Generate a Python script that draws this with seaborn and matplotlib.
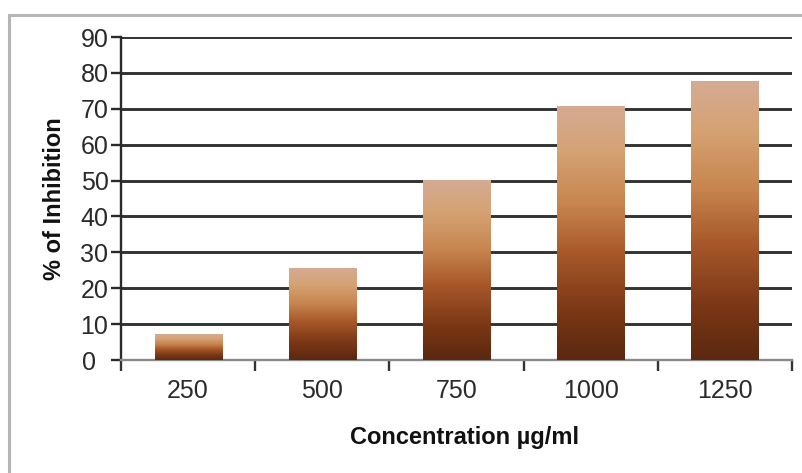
import numpy as np
import pandas as pd
import matplotlib
matplotlib.use("Agg")
import matplotlib.pyplot as plt
import matplotlib.transforms as mtransforms
import seaborn as sns
from matplotlib.colors import LinearSegmentedColormap
from matplotlib.patches import Rectangle

# Data
concentrations = ["250", "500", "750", "1000", "1250"]
inhibition = [7, 25.5, 50, 70.5, 77.5]
y_ticks = [0, 10, 20, 30, 40, 50, 60, 70, 80, 90]

sns.set_theme(style="white")
plt.rcParams["font.family"] = ["Liberation Sans", "DejaVu Sans"]

W, H = 803, 473
fig = plt.figure(figsize=(W / 100, H / 100), dpi=100)
fig.patch.set_facecolor("white")

# outer chart frame
fig.add_artist(Rectangle((9 / W, -0.1), 1.2, 1 - 15 / H + 0.1, transform=fig.transFigure,
                         fill=False, edgecolor="#b5b5b5", lw=2.2))

ax = fig.add_axes([121 / W, 1 - 360 / H, (792 - 121) / W, (360 - 37) / H])

df = pd.DataFrame({"conc": concentrations, "inh": inhibition})
sns.barplot(data=df, x="conc", y="inh", ax=ax, width=0.5, color="#a0522d",
            order=concentrations, errorbar=None)

# brown vertical gradient for each bar
cmap = LinearSegmentedColormap.from_list("brown", [
    (0.0, "#5a2810"), (0.2, "#7c3816"), (0.42, "#a8582a"),
    (0.62, "#c88650"), (0.82, "#d5a273"), (1.0, "#d4ab92")])
grad = np.linspace(0, 1, 256).reshape(-1, 1)
for p in ax.patches:
    x0, w, h = p.get_x(), p.get_width(), p.get_height()
    ax.imshow(grad, cmap=cmap, origin="lower", aspect="auto",
              extent=[x0, x0 + w, 0, h], zorder=3, interpolation="bilinear")
    p.set_visible(False)

ax.set_xlim(-0.5, len(concentrations) - 0.5)
ax.set_ylim(0, 90)
ax.set_aspect("auto")

ax.set_yticks(y_ticks)
ax.yaxis.grid(True, color="#333333", lw=2.1)
ax.set_axisbelow(True)

for s in ["top", "right"]:
    ax.spines[s].set_visible(False)
ax.spines["left"].set_color("#2a2a2a")
ax.spines["left"].set_linewidth(1.7)
ax.spines["bottom"].set_color("#8a8a8a")
ax.spines["bottom"].set_linewidth(1.7)

ax.set_xticks(np.arange(-0.5, len(concentrations), 1.0), minor=True)
ax.tick_params(axis="x", which="major", length=0, pad=14, labelsize=18, labelcolor="#2a2a2a")
ax.tick_params(axis="x", which="minor", length=8, width=1.7, color="#333333", direction="out", bottom=True)
ax.tick_params(axis="y", length=7, width=1.7, color="#2a2a2a", direction="out", pad=2,
               labelsize=18, labelcolor="#2a2a2a", left=True)

# the zero label sits a little further from its tick
fig.canvas.draw()
zero_label = ax.get_yticklabels()[0]
zero_label.set_transform(zero_label.get_transform() +
                         mtransforms.ScaledTranslation(-12 / 100, 0, fig.dpi_scale_trans))

ax.set_xlabel("")
ax.set_ylabel("")
fig.text(465 / W, 1 - 437 / H, "Concentration µg/ml", ha="center", va="center",
         fontsize=17, fontweight="bold", color="#111111")
fig.text(55 / W, 1 - 199 / H, "% of Inhibition", ha="center", va="center", rotation=90,
         fontsize=17, fontweight="bold", color="#111111")

fig.savefig("out.png", dpi=100)
